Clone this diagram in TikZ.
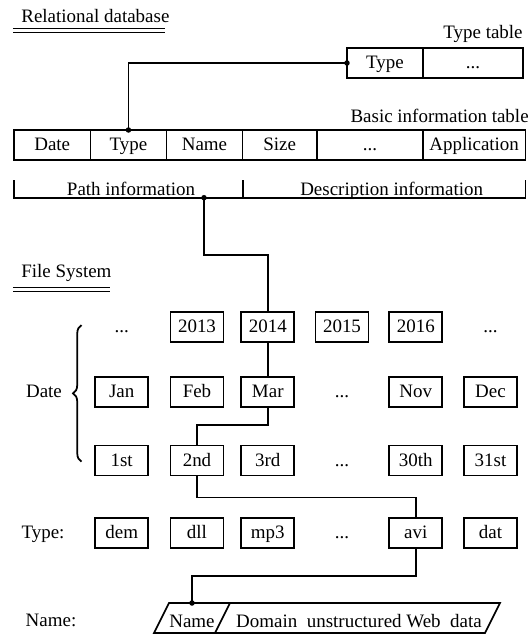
\documentclass[tikz,border=0pt]{standalone}
\usepackage{fontspec}
\setmainfont{Liberation Serif}
\usepackage{tikz}
\usetikzlibrary{positioning, decorations.pathreplacing}

\begin{document}
\begin{tikzpicture}[
    x=0.02cm, y=-0.02cm,
    font=\fontsize{10.8}{13}\selectfont,
    txt/.style={inner sep=0pt, text height=0.8em, text depth=0.17em},
    cell/.style={txt, rectangle, draw, line width=1pt, minimum height=0.6cm,
                 outer sep=0pt},
    unit/.style={cell, minimum width=1.06cm},
    link/.style={line width=1pt},
    dot/.style={circle, fill, inner sep=0pt, minimum size=0.11cm},
    title/.style={inner sep=0pt, anchor=base west},
    twoline/.style={double, line width=0.5pt, double distance=0.06cm},
  ]
  \useasboundingbox (0,0) rectangle (531,637);

  % relational database
  \node[title] (reldb) at (21,22) {Relational database};
  \draw[twoline] (13,30.3) -- (165,30.3);

  \node[title, anchor=base east] (ttitle) at (523,38) {Type table};
  \node[cell, minimum width=1.52cm, anchor=north west] (ttype) at (347,48) {Type};
  \node[cell, minimum width=2.0cm, right=0pt of ttype] (tmore) {...};

  \node[title, anchor=base east] (btitle) at (529,122.7) {Basic information table};
  \node[cell, minimum width=1.53cm, anchor=north west] (bdate) at (14,130) {Date};
  \node[cell, minimum width=1.52cm, right=0pt of bdate] (btype) {Type};
  \node[cell, minimum width=1.52cm, right=0pt of btype] (bname) {Name};
  \node[cell, minimum width=1.49cm, right=0pt of bname] (bsize) {Size};
  \node[cell, minimum width=2.12cm, right=0pt of bsize] (bmore) {...};
  \node[cell, minimum width=2.05cm, right=0pt of bmore] (bapp) {Application};

  \draw[link] (ttype.west) -| (btype.north);
  \node[dot] (dttype) at (ttype.west) {};
  \node[dot] (dbtype) at (btype.north) {};

  \draw[link] (14,180) |- (525.5,197.7) -- (525.5,180);
  \draw[link] (242.7,180) -- (242.7,197.7);
  \node[txt, anchor=base] (pathinfo) at (131,195.5) {Path information};
  \node[txt, anchor=base] (descinfo) at (391.7,195.5) {Description information};
  \coordinate (pathdot) at (204,197.7);

  % file system
  \node[title] (fstitle) at (21,277) {File System};
  \draw[twoline] (13,289.7) -- (110,289.7);

  \node[txt] (ymore1) at (121.7,326.7) {...};
  \node[unit] (y2013) at (197,326.7) {2013};
  \node[unit] (y2014) at (267.8,326.7) {2014};
  \node[unit] (y2015) at (342,326.7) {2015};
  \node[unit] (y2016) at (415.8,326.7) {2016};
  \node[txt] (ymore2) at (490.5,326.7) {...};

  \node[unit] (jan) at (121.7,392.3) {Jan};
  \node[unit] (feb) at (197,392.3) {Feb};
  \node[unit] (mar) at (267.8,392.3) {Mar};
  \node[txt] (mmore) at (342,392.3) {...};
  \node[unit] (nov) at (415.8,392.3) {Nov};
  \node[unit] (dec) at (490.5,392.3) {Dec};

  \node[unit] (d1) at (121.7,460.6) {1st};
  \node[unit] (d2) at (197,460.6) {2nd};
  \node[unit] (d3) at (267.8,460.6) {3rd};
  \node[txt] (dmore) at (342,460.6) {...};
  \node[unit] (d30) at (415.8,460.6) {30th};
  \node[unit] (d31) at (490.5,460.6) {31st};

  \node[unit] (dem) at (121.7,533.3) {dem};
  \node[unit] (dll) at (197,533.3) {dll};
  \node[unit] (mp3) at (267.8,533.3) {mp3};
  \node[txt] (tpmore) at (342,533.3) {...};
  \node[unit] (avi) at (415.8,533.3) {avi};
  \node[unit] (dat) at (490.5,533.3) {dat};

  \node[txt] (datelbl) at (44,392.3) {Date};
  \node[txt] (typelbl) at (43,533.3) {Type:};
  \node[txt] (namelbl) at (51,621) {Name:};
  \draw[link, decorate, decoration={brace, amplitude=0.17cm}]
       (81.5,461.7) -- (81.5,325);

  % name record
  \coordinate (namedot) at (192,603);
  \draw[link] (154,633) -- (169,603) -- (500,603) -- (485,633) -- cycle;
  \draw[link] (230,603) -- (215,633);
  \node[txt] (namecell) at (192,622) {Name};
  \node[txt] (datacell) at (359,622) {Domain~ unstructured Web~ data};

  % path through the tree
  \draw[link] (pathdot) -- ++(0,57.3) -| (y2014.north);
  \node[dot] (dpath) at (pathdot) {};
  \draw[link] (y2014) -- (mar);
  \draw[link] (mar.south) -- ++(0,18) -| (d2.north);
  \draw[link] (d2.south) -- ++(0,22) -| (avi.north);
  \draw[link] (avi.south) -- ++(0,28) -| (namedot);
  \node[dot] (dname) at (namedot) {};
\end{tikzpicture}
\end{document}
